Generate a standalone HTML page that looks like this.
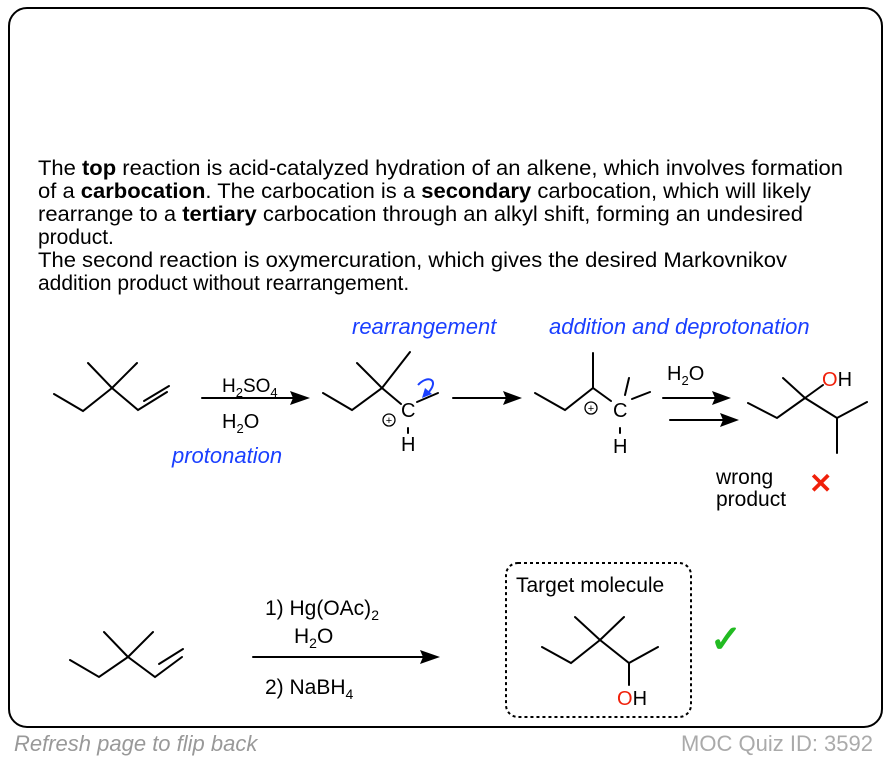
<!DOCTYPE html>
<html><head><meta charset="utf-8"><style>
body{margin:0;background:#fff;}
svg{display:block;font-family:"Liberation Sans",Arial,sans-serif;}
</style></head><body>
<svg width="890" height="762" viewBox="0 0 890 762" xmlns="http://www.w3.org/2000/svg">
<rect x="9" y="8" width="873" height="719" rx="18" fill="#fff" stroke="#000" stroke-width="2"/>
<g font-size="21" fill="#000">
<text x="38" y="175" textLength="805" lengthAdjust="spacingAndGlyphs">The <tspan font-weight="bold">top</tspan> reaction is acid-catalyzed hydration of an alkene, which involves formation</text>
<text x="38" y="198" textLength="773" lengthAdjust="spacingAndGlyphs">of a <tspan font-weight="bold">carbocation</tspan>. The carbocation is a <tspan font-weight="bold">secondary</tspan> carbocation, which will likely</text>
<text x="38" y="221" textLength="765" lengthAdjust="spacingAndGlyphs">rearrange to a <tspan font-weight="bold">tertiary</tspan> carbocation through an alkyl shift, forming an undesired</text>
<text x="38" y="244">product.</text>
<text x="38" y="267" textLength="749" lengthAdjust="spacingAndGlyphs">The second reaction is oxymercuration, which gives the desired Markovnikov</text>
<text x="38" y="290">addition product without rearrangement.</text>
</g>
<g stroke="#000" stroke-width="2" fill="none" stroke-linecap="round">
<polyline points="54,394 83,411 112,388 138,410 167,392"/>
<line x1="112" y1="388" x2="88" y2="363"/><line x1="112" y1="388" x2="137" y2="363"/>
<line x1="142" y1="403" x2="167" y2="388" transform="translate(2,-2)"/>
<line x1="202" y1="398" x2="295" y2="398"/>
<polyline points="323,393 352,410 382,388 401,404"/>
<line x1="382" y1="388" x2="357" y2="363"/><line x1="382" y1="388" x2="410" y2="352"/>
<line x1="417" y1="402" x2="438" y2="393"/>
<line x1="408" y1="428" x2="408" y2="433"/>
<line x1="453" y1="398" x2="508" y2="398"/>
<polyline points="535,393 565,410 593,388 611,401"/>
<line x1="593" y1="388" x2="593" y2="353"/>
<line x1="625" y1="395" x2="629" y2="378"/><line x1="632" y1="399" x2="650" y2="392"/>
<line x1="620" y1="428" x2="620" y2="433"/>
<line x1="663" y1="398" x2="717" y2="398"/><line x1="670" y1="420" x2="725" y2="420"/>
<polyline points="748,403 777,418 805,398 837,418 867,402"/>
<line x1="805" y1="398" x2="783" y2="378"/><line x1="805" y1="398" x2="823" y2="385"/>
<line x1="837" y1="418" x2="837" y2="453"/>
<polyline points="70,660 99,677 128,657 155,677 182,657"/>
<line x1="128" y1="657" x2="104" y2="632"/><line x1="128" y1="657" x2="153" y2="632"/>
<line x1="158" y1="670" x2="182" y2="655" transform="translate(1,-6)"/>
<line x1="253" y1="657" x2="425" y2="657"/>
<polyline points="542,647 571,663 600,640 629,663 658,647"/>
<line x1="600" y1="640" x2="575" y2="617"/><line x1="600" y1="640" x2="624" y2="617"/>
<line x1="629" y1="663" x2="629" y2="685"/>
</g>
<g fill="#000">
<polygon points="310,398 290,391 293,398 290,405"/>
<polygon points="522,398 503,391 506,398 503,405"/>
<polygon points="731,398 712,391 715,398 712,405"/>
<polygon points="739,420 720,413 723,420 720,427"/>
<polygon points="440,657 420,650 423,657 420,664"/>
</g>
<rect x="506" y="563" width="185" height="154" rx="12" fill="none" stroke="#000" stroke-width="2" stroke-dasharray="3,3"/>
<g font-size="20" fill="#000">
<text x="222" y="392" font-size="19">H<tspan font-size="13" dy="5">2</tspan><tspan dy="-5">SO</tspan><tspan font-size="13" dy="5">4</tspan></text>
<text x="222" y="428" font-size="20">H<tspan font-size="13" dy="5">2</tspan><tspan dy="-5">O</tspan></text>
<text x="401" y="417">C</text><text x="401" y="451">H</text>
<text x="613" y="417">C</text><text x="613" y="453">H</text>
<text x="667" y="380" font-size="20">H<tspan font-size="13" dy="5">2</tspan><tspan dy="-5">O</tspan></text>
<text x="822" y="386" font-size="20"><tspan fill="#f0200a">O</tspan>H</text>
<text x="716" y="484" font-size="21">wrong</text><text x="716" y="506" font-size="21">product</text>
<text x="265" y="615" font-size="21">1) Hg(OAc)<tspan font-size="14" dy="5">2</tspan></text>
<text x="294" y="643" font-size="21">H<tspan font-size="14" dy="5">2</tspan><tspan dy="-5">O</tspan></text>
<text x="265" y="694" font-size="21">2) NaBH<tspan font-size="14" dy="5">4</tspan></text>
<text x="516" y="592" font-size="21">Target molecule</text>
<text x="617" y="705" font-size="20"><tspan fill="#f0200a">O</tspan>H</text>
</g>
<g font-size="11" text-anchor="middle">
<circle cx="389" cy="420" r="6" fill="none" stroke="#000" stroke-width="1.3"/><text x="389" y="424">+</text>
<circle cx="591" cy="408" r="6" fill="none" stroke="#000" stroke-width="1.3"/><text x="591" y="412">+</text>
</g>
<path d="M418,385 C428,374 440,380 428,393" fill="none" stroke="#1a3fff" stroke-width="2"/>
<polygon points="422,398 425,388 432,394" fill="#1a3fff"/>
<g font-size="22" font-style="italic" fill="#1a3fff">
<text x="352" y="334">rearrangement</text>
<text x="549" y="334">addition and deprotonation</text>
<text x="172" y="463">protonation</text>
</g>
<text x="809" y="493" font-size="28" font-weight="bold" fill="#f0200a">✕</text>
<text x="710" y="652" font-size="38" font-weight="bold" fill="#22bb22">✓</text>
<text x="14" y="751" font-size="22" font-style="italic" fill="#999">Refresh page to flip back</text>
<text x="873" y="751" font-size="22" fill="#aaa" text-anchor="end">MOC Quiz ID: 3592</text>
</svg>
</body></html>
